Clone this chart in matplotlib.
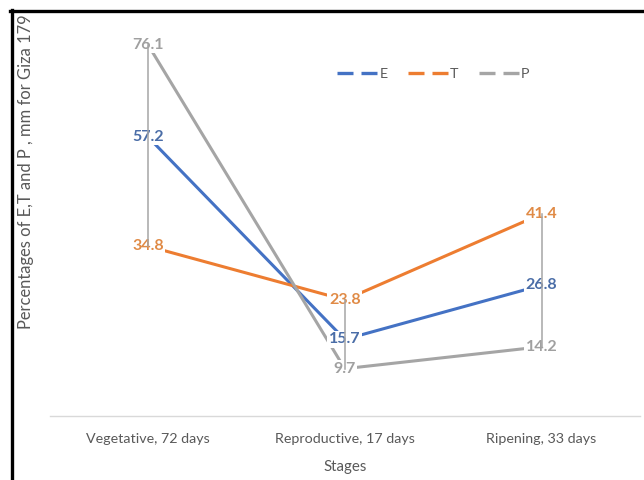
import matplotlib.pyplot as plt
from matplotlib.lines import Line2D

plt.rcParams["font.family"] = ["Lato", "DejaVu Sans"]

stages = ["Vegetative, 72 days", "Reproductive, 17 days", "Ripening, 33 days"]
series_names = ["E", "T", "P"]
e_values = [57.2, 15.7, 26.8]
t_values = [34.8, 23.8, 41.4]
p_values = [76.1, 9.7, 14.2]

colors = {"E": "#4472C4", "T": "#ED7D31", "P": "#A5A5A5"}
label_colors = {"E": "#4A6DA7", "T": "#E08A45", "P": "#A0A0A0"}
text_grey = "#595959"

fig = plt.figure(figsize=(6.44, 4.8), dpi=100)
ax = fig.add_axes([0.0769, 0.1333, 0.9169, 0.8134])

x = list(range(len(stages)))
data = {"E": e_values, "T": t_values, "P": p_values}

for name in series_names:
    ax.plot(x, data[name], color=colors[name], linewidth=2.2,
            solid_capstyle="butt", zorder=2)

# data labels centred on the points
for name in series_names:
    for xi, val in zip(x, data[name]):
        ax.text(xi, val, f"{val:.1f}", ha="center", va="center",
                fontsize=11.5, fontweight="bold", color=label_colors[name],
                bbox=dict(boxstyle="square,pad=0.1", fc="white", ec="none"),
                zorder=3)

# high-low lines
for xi in x:
    vals = [data[n][xi] for n in series_names]
    ax.plot([xi, xi], [min(vals), max(vals)], color="#A5A5A5",
            linewidth=1.1, zorder=4)

ax.set_xlim(-0.5, 2.5)
ax.set_ylim(0, 80)
ax.set_xticks(x)
ax.set_xticklabels(stages, fontsize=10.3, color=text_grey)
ax.tick_params(axis="x", length=0, pad=12)
ax.set_yticks([])
for side in ["top", "right", "left"]:
    ax.spines[side].set_visible(False)
ax.spines["bottom"].set_color("#D9D9D9")
ax.spines["bottom"].set_linewidth(1.0)

ax.set_xlabel("Stages", fontsize=10.8, color=text_grey, labelpad=11)

fig.text(0.040, 0.643, "Percentages of E,T and P , mm for Giza 179",
         rotation=90, ha="center", va="center", fontsize=11.9, color=text_grey)

handles = [Line2D([0], [0], color=colors[n], linewidth=2.4, linestyle=(0, (4.8, 2.4)))
           for n in series_names]
leg = ax.legend(handles, series_names, loc="center", bbox_to_anchor=(0.65, 0.876),
                ncol=3, frameon=False, fontsize=10.3, handlelength=2.8,
                handletextpad=0.15, columnspacing=1.4, labelcolor=text_grey)

# black frame edges from the cropped source
fig.add_artist(Line2D([0.0179, 0.0179], [0, 0.979], color="black", linewidth=2.4,
                      transform=fig.transFigure))
fig.add_artist(Line2D([0.0162, 1.0], [0.978, 0.978], color="black", linewidth=2.4,
                      transform=fig.transFigure))

fig.savefig("out.png", dpi=100)
